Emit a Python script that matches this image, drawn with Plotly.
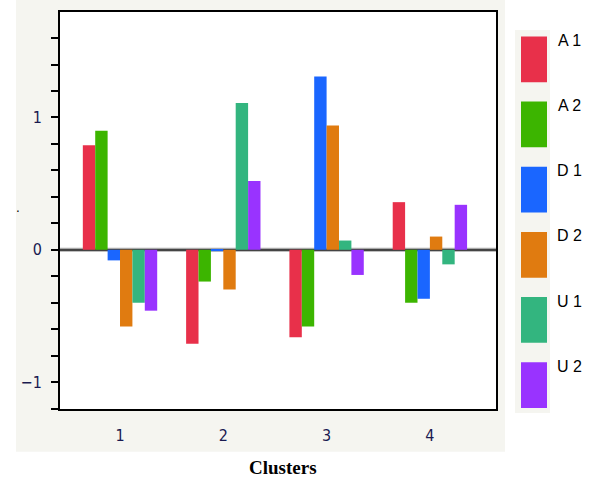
import plotly.graph_objects as go

clusters = [1, 2, 3, 4]
series_names = ["A 1", "A 2", "D 1", "D 2", "U 1", "U 2"]
series_colors = ["#e8304a", "#3cb500", "#1a66ff", "#e07b10", "#33b57f", "#9933ff"]
values = {
    "A 1": [0.79, -0.71, -0.66, 0.36],
    "A 2": [0.90, -0.24, -0.58, -0.40],
    "D 1": [-0.08, -0.01, 1.31, -0.37],
    "D 2": [-0.58, -0.30, 0.94, 0.10],
    "U 1": [-0.40, 1.11, 0.07, -0.11],
    "U 2": [-0.46, 0.52, -0.19, 0.34],
}
y_ticks = [round(-1.2 + 0.2 * i, 1) for i in range(15)]
y_labels = {-1.0: "\u22121", 0.0: "0", 1.0: "1"}

W, H = 600, 496
ML, MR, MT, MB = 60, 104, 10, 87
PW, PH = W - ML - MR, H - MT - MB

def px(x):
    return (x - ML) / PW

def py(y):
    return (H - MB - y) / PH

fig = go.Figure()
for name, col in zip(series_names, series_colors):
    fig.add_trace(go.Bar(x=clusters, y=values[name], name=name,
                         marker=dict(color=col, line=dict(width=0)),
                         showlegend=False))

shapes = [
    dict(type="rect", xref="paper", yref="paper", x0=px(16), x1=px(505), y0=py(452), y1=py(-5),
         fillcolor="#f5f5f0", line=dict(width=0), layer="below"),
    dict(type="rect", xref="paper", yref="paper", x0=0, x1=1, y0=0, y1=1,
         fillcolor="white", line=dict(width=0), layer="below"),
    dict(type="rect", xref="paper", yref="paper", x0=px(515), x1=px(550), y0=py(413), y1=py(28),
         fillcolor="#f5f5f0", line=dict(width=0), layer="below"),
    dict(type="line", xref="paper", yref="y", x0=0, x1=1, y0=0, y1=0,
         line=dict(color="#aaaaaa", width=4), layer="below"),
]
annotations = []
top0, step, bh = 34.5, 65.5, 46
for i, (name, col) in enumerate(zip(series_names, series_colors)):
    t = top0 + i * step
    shapes.append(dict(type="rect", xref="paper", yref="paper", x0=px(521), x1=px(547),
                       y0=py(t + bh), y1=py(t), fillcolor=col, line=dict(width=0)))
    annotations.append(dict(xref="paper", yref="paper", x=px(569), y=py(t + 4), text=name,
                            showarrow=False, xanchor="center", yanchor="middle",
                            font=dict(family="Liberation Sans, Arial", size=16, color="black")))

annotations.append(dict(xref="paper", yref="paper", x=px(283), y=py(468), text="<b>Clusters</b>",
                        showarrow=False, xanchor="center", yanchor="middle",
                        font=dict(family="Liberation Serif, Times New Roman", size=19, color="black")))
annotations.append(dict(xref="paper", yref="paper", x=px(18), y=py(207), text=".",
                        showarrow=False, xanchor="center", yanchor="middle",
                        font=dict(family="DejaVu Sans", size=12, color="black")))

tick_font = dict(family="DejaVu Sans Condensed, DejaVu Sans", size=16, color="#1a1a50")

fig.update_layout(
    width=W, height=H,
    margin=dict(l=ML, r=MR, t=MT, b=MB, pad=0),
    paper_bgcolor="white", plot_bgcolor="rgba(0,0,0,0)",
    barmode="group", bargap=0.28, bargroupgap=0,
    shapes=shapes, annotations=annotations, showlegend=False,
)
fig.update_xaxes(range=[0.419, 4.64], tickvals=clusters, ticktext=[str(c) for c in clusters],
                 showgrid=False, zeroline=False, showline=True, mirror=True,
                 linecolor="black", linewidth=2, ticks="", ticklabelstandoff=11,
                 tickfont=tick_font)
fig.update_yaxes(range=[-1.203, 1.797], tickvals=y_ticks,
                 ticktext=[y_labels.get(v, "") for v in y_ticks],
                 showgrid=False, zeroline=True, zerolinecolor="#444444", zerolinewidth=2,
                 showline=True, mirror=True, linecolor="black", linewidth=2,
                 ticks="outside", ticklen=7, tickwidth=1.5, tickcolor="black",
                 ticklabelstandoff=6, tickfont=tick_font)

fig.write_html("out.html", config={"displayModeBar": False},
               post_script="document.body.style.margin='0';document.body.style.overflow='hidden';")
